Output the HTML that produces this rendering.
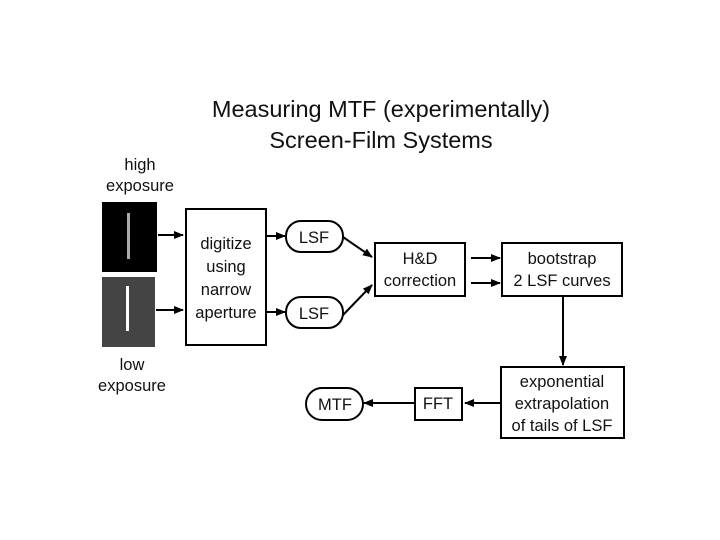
<!DOCTYPE html>
<html><head><meta charset="utf-8"><style>
html,body{margin:0;padding:0;background:#fff;width:720px;height:540px;overflow:hidden}
svg text{font-family:"Liberation Sans",Arial,sans-serif;fill:#111}
</style></head><body>
<svg width="720" height="540" viewBox="0 0 720 540" xmlns="http://www.w3.org/2000/svg">
<defs><marker id="a" markerWidth="10" markerHeight="8" refX="9" refY="4" orient="auto" markerUnits="userSpaceOnUse"><path d="M0,0 L10,4 L0,8 Z" fill="#000"/></marker></defs>
<text x="381" y="117" font-size="23.5" text-anchor="middle">Measuring MTF (experimentally)</text>
<text x="381" y="148" font-size="23.5" text-anchor="middle">Screen-Film Systems</text>
<text x="140" y="170" font-size="16.5" text-anchor="middle">high</text>
<text x="140" y="191" font-size="16.5" text-anchor="middle">exposure</text>
<text x="132" y="370" font-size="16.5" text-anchor="middle">low</text>
<text x="132" y="391" font-size="16.5" text-anchor="middle">exposure</text>
<rect x="102" y="202" width="55" height="70" fill="#000"/>
<rect x="127" y="213" width="3" height="46" fill="#aaa"/>
<rect x="102" y="277" width="53" height="70" fill="#444"/>
<rect x="126" y="286" width="3" height="45" fill="#fff"/>
<g stroke="#000" stroke-width="2" fill="none">
<line x1="158" y1="235" x2="183" y2="235" marker-end="url(#a)"/>
<line x1="156" y1="310" x2="183" y2="310" marker-end="url(#a)"/>
<rect x="186" y="209" width="80" height="136" fill="#fff"/>
<line x1="267" y1="236" x2="285" y2="236" marker-end="url(#a)"/>
<line x1="267" y1="312" x2="285" y2="312" marker-end="url(#a)"/>
<rect x="286" y="221" width="57" height="31" rx="15" fill="#fff"/>
<rect x="286" y="297" width="57" height="31" rx="15" fill="#fff"/>
<line x1="343" y1="237" x2="372" y2="257" marker-end="url(#a)"/>
<line x1="343" y1="315" x2="372" y2="285" marker-end="url(#a)"/>
<rect x="375" y="243" width="90" height="53" fill="#fff"/>
<line x1="471" y1="258" x2="500" y2="258" marker-end="url(#a)"/>
<line x1="471" y1="283" x2="500" y2="283" marker-end="url(#a)"/>
<rect x="502" y="243" width="120" height="53" fill="#fff"/>
<line x1="563" y1="296" x2="563" y2="365" marker-end="url(#a)"/>
<rect x="501" y="367" width="123" height="71" fill="#fff"/>
<line x1="500" y1="403" x2="465" y2="403" marker-end="url(#a)"/>
<rect x="415" y="388" width="47" height="32" fill="#fff"/>
<line x1="415" y1="403" x2="364" y2="403" marker-end="url(#a)"/>
<rect x="306" y="388" width="57" height="32" rx="16" fill="#fff"/>
</g>
<g font-size="16.5" text-anchor="middle">
<text x="226" y="249">digitize</text>
<text x="226" y="272">using</text>
<text x="226" y="295">narrow</text>
<text x="226" y="318">aperture</text>
<text x="314" y="243">LSF</text>
<text x="314" y="319">LSF</text>
<text x="420" y="264">H&amp;D</text>
<text x="420" y="286">correction</text>
<text x="562" y="264">bootstrap</text>
<text x="562" y="286">2 LSF curves</text>
<text x="562" y="387">exponential</text>
<text x="562" y="409">extrapolation</text>
<text x="562" y="431">of tails of LSF</text>
<text x="438" y="409">FFT</text>
<text x="335" y="410">MTF</text>
</g>
</svg>
</body></html>
